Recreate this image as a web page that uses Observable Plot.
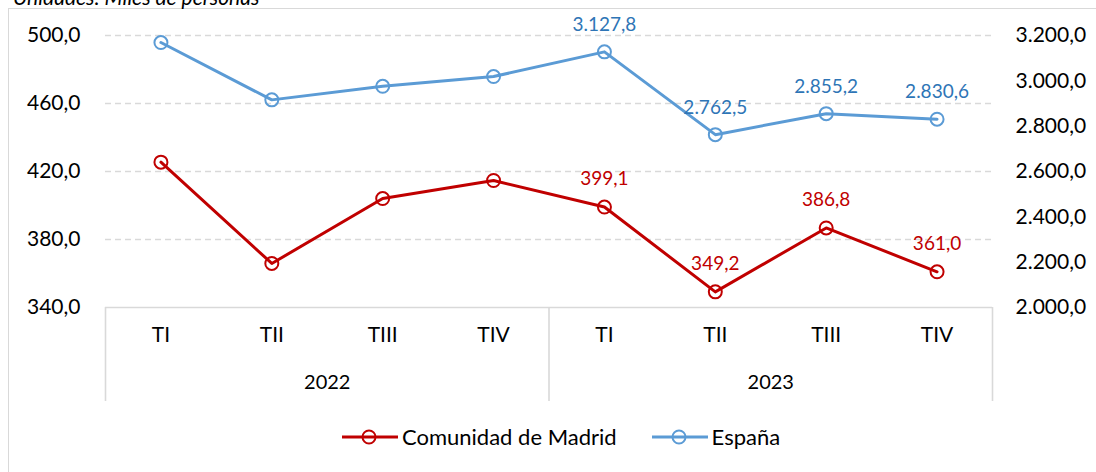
<!DOCTYPE html>
<html><head><meta charset="utf-8">
<script src="https://cdn.jsdelivr.net/npm/d3@7"></script>
<script src="https://cdn.jsdelivr.net/npm/@observablehq/plot@0.6"></script>
<style>
body{margin:0;overflow:hidden;background:#fff;font-family:Lato,sans-serif;}
#wrap{position:relative;width:1096px;height:472px;overflow:hidden;}
#frame{position:absolute;left:8px;top:8px;width:1200px;height:600px;border-left:1.5px solid #d9d9d9;border-top:1.5px solid #d9d9d9;}
#sub{position:absolute;left:13px;top:-16px;font-style:italic;font-size:21px;color:#000;white-space:nowrap;}
#chart{position:absolute;left:0;top:0;}
#legend{position:absolute;left:342px;top:423px;display:flex;align-items:center;font-size:22px;color:#000;white-space:nowrap;}
#legend .item{display:flex;align-items:center;}
</style></head>
<body><div id="wrap"><div id="frame"></div><div id="sub">Unidades: Miles de personas</div><div id="chart"></div><div id="legend"></div></div>
<script>
const quarters = ["TI","TII","TIII","TIV","TI","TII","TIII","TIV"];
const years = ["2022","2023"];
const madrid = [425.5, 365.9, 404.1, 414.7, 399.1, 349.2, 386.8, 361.0];
const espana = [3169, 2916, 2976, 3019, 3127.8, 2762.5, 2855.2, 2830.6];
const labeled = [false, false, false, false, true, true, true, true];
const leftTicks = [340, 380, 420, 460, 500];
const rightTicks = [2000, 2200, 2400, 2600, 2800, 3000, 3200];
const seriesNames = ["Comunidad de Madrid", "España"];
const colors = ["#C00000", "#5B9BD5"];
const labelColors = ["#C00000", "#2E75B6"];

const leftDomain = [340, 500];
const rightDomain = [2000, 3200];
const toLeft = v => leftDomain[0] + (v - rightDomain[0]) * (leftDomain[1] - leftDomain[0]) / (rightDomain[1] - rightDomain[0]);
const fromLeft = v => rightDomain[0] + (v - leftDomain[0]) * (rightDomain[1] - rightDomain[0]) / (leftDomain[1] - leftDomain[0]);

const loc = d3.formatLocale({decimal: ",", thousands: ".", grouping: [3], currency: ["", "€"]});
const fmt = loc.format(",.1f");

const idx = quarters.map((q, i) => i);
const mad = idx.map(i => ({i, v: madrid[i], y: madrid[i], lab: labeled[i]}));
const esp = idx.map(i => ({i, v: espana[i], y: toLeft(espana[i]), lab: labeled[i]}));

const perYear = quarters.length / years.length;
const bounds = d3.range(years.length + 1).map(k => k * perYear - 0.5);
const centers = years.map((y, k) => k * perYear + (perYear - 1) / 2);

const grid = "#d9d9d9";
const chart = Plot.plot({
  width: 1096,
  height: 410,
  marginLeft: 105,
  marginRight: 104,
  marginTop: 35,
  marginBottom: 103,
  style: {fontFamily: "Lato, sans-serif", fontSize: "21px", color: "#000", background: "transparent"},
  x: {type: "linear", domain: [-0.5, quarters.length - 0.5]},
  y: {domain: leftDomain},
  marks: [
    Plot.gridY(leftTicks.slice(1), {stroke: grid, strokeOpacity: 1, strokeWidth: 1.3, strokeDasharray: "6,4"}),
    Plot.ruleY([leftDomain[0]], {stroke: grid, strokeWidth: 1.6}),
    Plot.axisY(leftTicks, {anchor: "left", tickSize: 0, tickPadding: 25, tickFormat: fmt, fontSize: 21, label: null}),
    Plot.axisY(rightTicks.map(toLeft), {anchor: "right", tickSize: 0, tickPadding: 23, tickFormat: d => fmt(fromLeft(d)), fontSize: 21, label: null}),
    Plot.axisX(bounds, {anchor: "bottom", tickSize: 94, tickFormat: () => "", stroke: grid, strokeWidth: 1.6, label: null}),
    Plot.axisX(idx, {anchor: "bottom", tickSize: 0, tickPadding: 20, tickFormat: i => quarters[i], fontSize: 21, label: null}),
    Plot.axisX(centers, {anchor: "bottom", tickSize: 0, tickPadding: 67, tickFormat: (d, k) => years[k], fontSize: 20, label: null}),
    Plot.line(esp, {x: "i", y: "y", stroke: colors[1], strokeWidth: 3}),
    Plot.dot(esp, {x: "i", y: "y", r: 6.5, stroke: colors[1], strokeWidth: 2, fill: "none"}),
    Plot.text(esp.filter(d => d.lab), {x: "i", y: "y", text: d => fmt(d.v), dy: -27, fill: labelColors[1], fontSize: 19}),
    Plot.line(mad, {x: "i", y: "y", stroke: colors[0], strokeWidth: 3}),
    Plot.dot(mad, {x: "i", y: "y", r: 6.5, stroke: colors[0], strokeWidth: 2, fill: "none"}),
    Plot.text(mad.filter(d => d.lab), {x: "i", y: "y", text: d => fmt(d.v), dy: -28, fill: labelColors[0], fontSize: 19})
  ]
});
document.getElementById("chart").appendChild(chart);

const legend = document.getElementById("legend");
seriesNames.forEach((name, k) => {
  const item = document.createElement("div");
  item.className = "item";
  item.style.marginRight = k === 0 ? "35px" : "0";
  item.innerHTML = `<svg width="56" height="16" style="margin-right:4px"><line x1="0" x2="56" y1="8" y2="8" stroke="${colors[k]}" stroke-width="3"/><circle cx="27" cy="8" r="6.5" fill="none" stroke="${colors[k]}" stroke-width="2"/></svg><span>${name}</span>`;
  legend.appendChild(item);
});
</script>
</body></html>
